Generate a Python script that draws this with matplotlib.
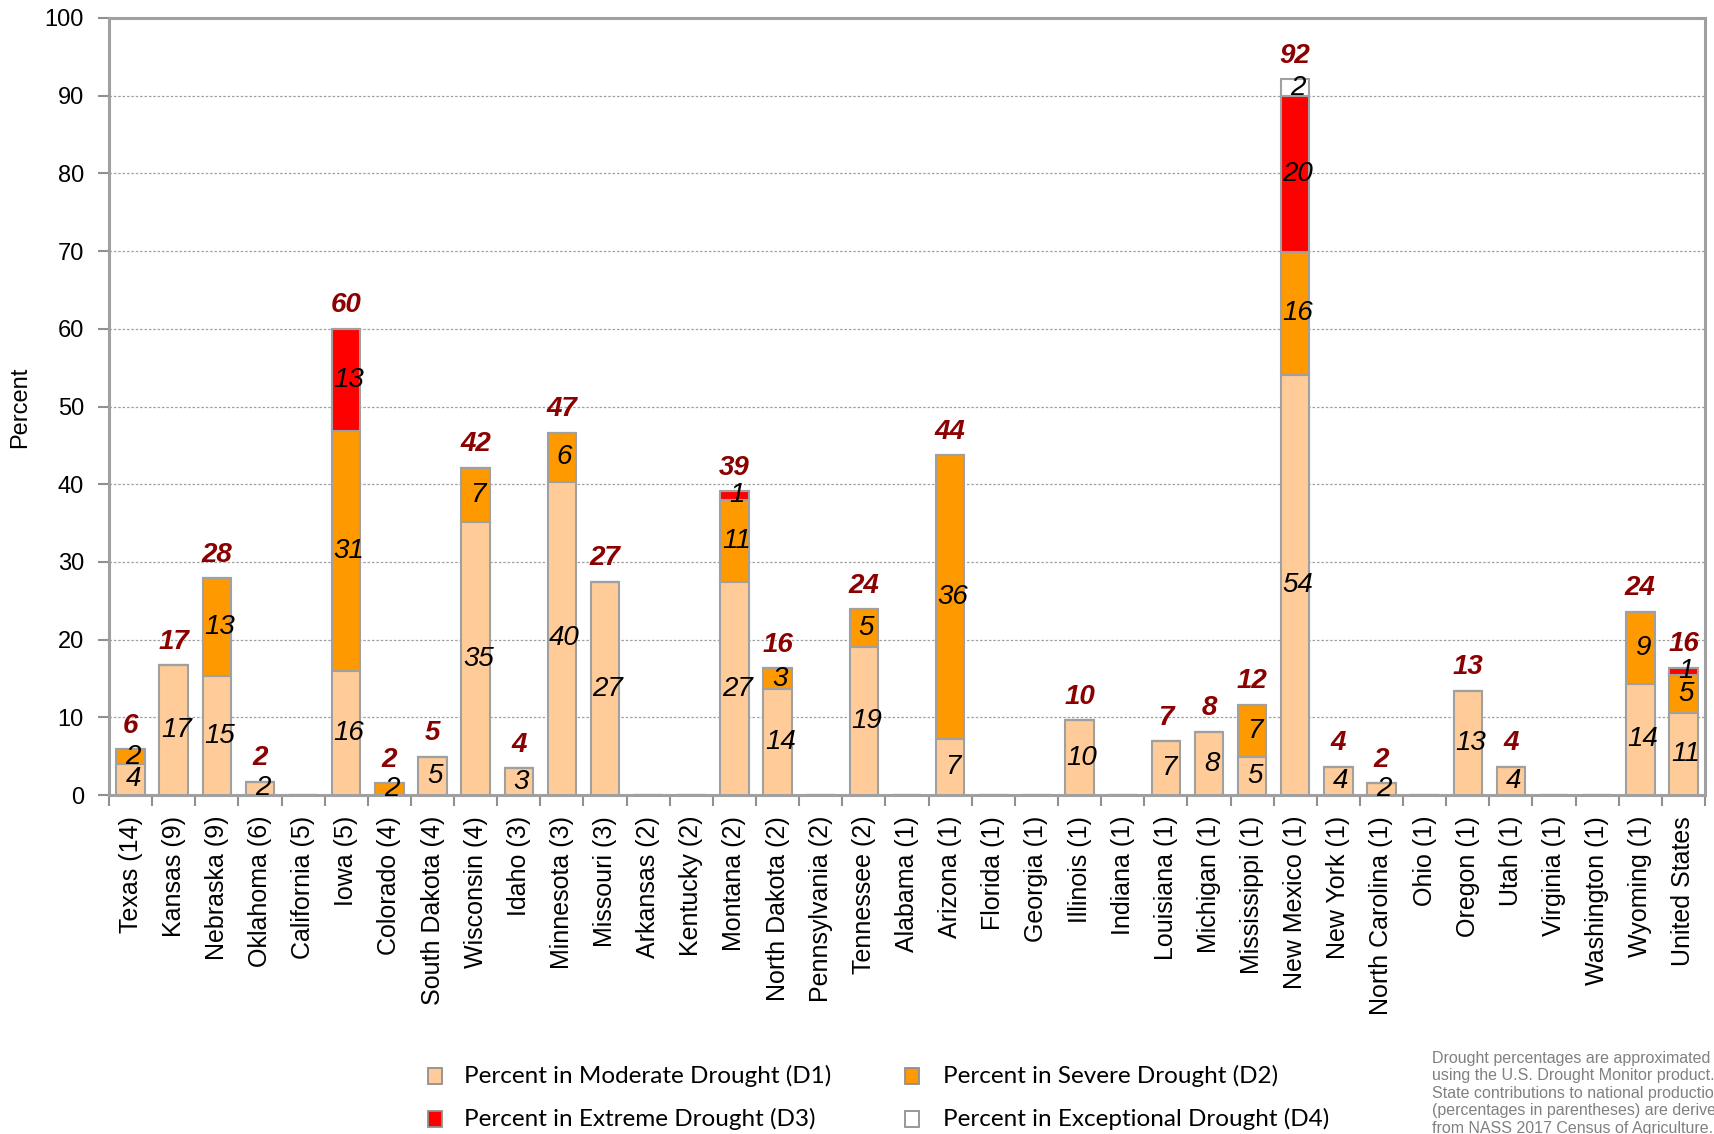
import matplotlib
matplotlib.use("Agg")
import matplotlib.pyplot as plt
from matplotlib.patches import Rectangle
import numpy as np

# Categories: states with share of national production (%) in parentheses
states = ["Texas (14)", "Kansas (9)", "Nebraska (9)", "Oklahoma (6)", "California (5)",
          "Iowa (5)", "Colorado (4)", "South Dakota (4)", "Wisconsin (4)", "Idaho (3)",
          "Minnesota (3)", "Missouri (3)", "Arkansas (2)", "Kentucky (2)", "Montana (2)",
          "North Dakota (2)", "Pennsylvania (2)", "Tennessee (2)", "Alabama (1)", "Arizona (1)",
          "Florida (1)", "Georgia (1)", "Illinois (1)", "Indiana (1)", "Louisiana (1)",
          "Michigan (1)", "Mississippi (1)", "New Mexico (1)", "New York (1)", "North Carolina (1)",
          "Ohio (1)", "Oregon (1)", "Utah (1)", "Virginia (1)", "Washington (1)",
          "Wyoming (1)", "United States"]

# Percent of area in each drought category
d1 = [4.0, 16.7, 15.3, 1.7, 0, 15.9, 0, 4.9, 35.1, 3.46,
      40.3, 27.4, 0, 0, 27.4, 13.6, 0, 19.0, 0, 7.2,
      0, 0, 9.6, 0, 6.9, 8.1, 4.9, 54.1, 3.6, 1.5,
      0, 13.4, 3.6, 0, 0, 14.3, 10.6]
d2 = [1.9, 0, 12.6, 0, 0, 31.0, 1.5, 0, 7.0, 0,
      6.3, 0, 0, 0, 10.6, 2.7, 0, 4.9, 0, 36.5,
      0, 0, 0, 0, 0, 0, 6.7, 15.8, 0, 0,
      0, 0, 0, 0, 0, 9.3, 4.8]
d3 = [0, 0, 0, 0, 0, 13.1, 0, 0, 0, 0,
      0, 0, 0, 0, 1.1, 0, 0, 0, 0, 0,
      0, 0, 0, 0, 0, 0, 0, 20.1, 0, 0,
      0, 0, 0, 0, 0, 0, 1.0]
d4 = [0, 0, 0, 0, 0, 0, 0, 0, 0, 0,
      0, 0, 0, 0, 0, 0, 0, 0, 0, 0,
      0, 0, 0, 0, 0, 0, 0, 2.1, 0, 0,
      0, 0, 0, 0, 0, 0, 0]

series_names = ["Percent in Moderate Drought (D1)", "Percent in Severe Drought (D2)",
                "Percent in Extreme Drought (D3)", "Percent in Exceptional Drought (D4)"]
colors = ["#FFCC99", "#FF9900", "#FF0000", "#FFFFFF"]

note_lines = ["Drought percentages are approximated",
              "using the U.S. Drought Monitor product.",
              "State contributions to national production",
              "(percentages in parentheses) are derived",
              "from NASS 2017 Census of Agriculture."]

W, H = 1715, 1134
fig = plt.figure(figsize=(W / 100, H / 100), dpi=100)
ax = fig.add_axes([109 / W, 1 - 795 / H, (1705 - 109) / W, (795 - 18) / H])

x = np.arange(len(states))
width = 0.66
edge = "#A0A0A0"
bottom = np.zeros(len(states))
all_series = [np.array(d1), np.array(d2), np.array(d3), np.array(d4)]
for vals, col in zip(all_series, colors):
    ax.bar(x, vals, width, bottom=bottom, color=col, edgecolor=edge, linewidth=1.5, zorder=3)
    for xi, v, b in zip(x, vals, bottom):
        if v > 0:
            ax.text(xi + 0.06, b + v / 2, f"{v:.0f}", ha="center", va="center",
                    fontsize=20, style="italic", color="black",
                    family="Liberation Sans", zorder=5)
    bottom = bottom + vals

# Bar totals in dark red above each non-empty bar (one decimal, then half-up)
totals = bottom
for xi, t in zip(x, totals):
    if t > 0:
        label = int(np.floor(round(float(t), 1) + 0.5))
        ax.annotate(f"{label}", (xi, t), xytext=(0, 17), textcoords="offset points",
                    ha="center", va="center", fontsize=20, fontweight="bold",
                    style="italic", color="#8B0000", family="Liberation Sans")

ax.set_xlim(-0.5, len(states) - 0.5)
ax.set_ylim(0, 100)
ax.set_yticks(np.arange(0, 101, 10))
ax.yaxis.grid(True, linestyle=(0, (2, 1.5)), color="#A0A0A0", linewidth=0.9, zorder=0)
ax.set_axisbelow(True)

ax.set_xticks(x)
ax.set_xticklabels(states, rotation=90, fontsize=18, family="Liberation Sans")
ax.set_xticks(np.arange(-0.5, len(states), 1), minor=True)
ax.tick_params(axis="x", which="major", length=0, pad=15)
ax.tick_params(axis="x", which="minor", length=8, width=1.5, color="#909090", direction="out")
ax.tick_params(axis="y", length=8, width=1.5, color="#909090", pad=10, labelsize=17)
for lab in ax.get_yticklabels():
    lab.set_family("Liberation Sans")

for s in ax.spines.values():
    s.set_color("#A0A0A0")
    s.set_linewidth(2.2)

fig.text(20 / W, 1 - 407 / H, "Percent", rotation=90, ha="center", va="center",
         fontsize=17, family="Liberation Sans")

# Legend drawn in figure pixels
legend_items = [(435, 1076, 464), (912, 1076, 943), (435, 1119, 464), (912, 1119, 943)]
for (mx, my, tx), name, col in zip(legend_items, series_names, colors):
    rect = Rectangle(((mx - 7) / W, 1 - (my + 8) / H), 14 / W, 16 / H,
                     facecolor=col, edgecolor="#909090", linewidth=1.3,
                     transform=fig.transFigure, figure=fig)
    fig.patches.append(rect)
    fig.text(tx / W, 1 - my / H, name, ha="left", va="center", fontsize=17.5,
             family="Lato")

for i, line in enumerate(note_lines):
    fig.text(1432 / W, 1 - (1058 + 17.6 * i) / H, line, ha="left", va="center",
             fontsize=11.5, color="#808080", family="Liberation Sans")

fig.savefig("out.png", dpi=100)
